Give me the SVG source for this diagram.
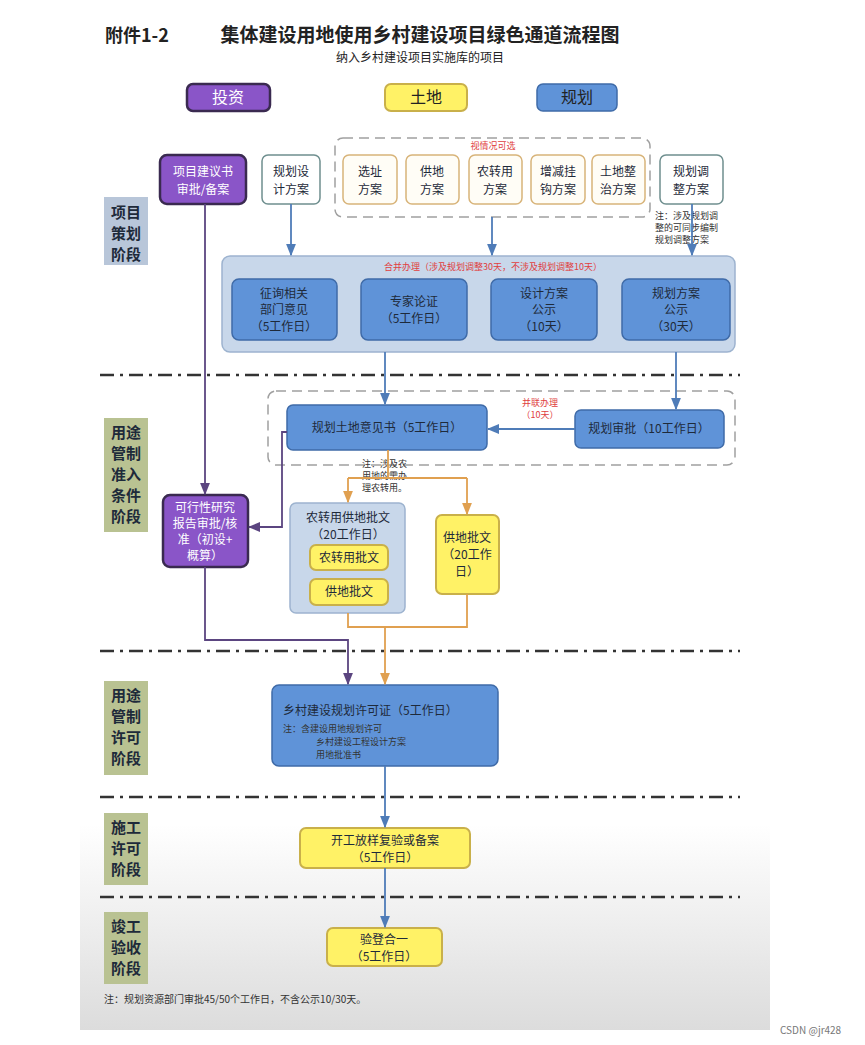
<svg xmlns="http://www.w3.org/2000/svg" width="865" height="1045" viewBox="0 0 865 1045">
<defs>
<linearGradient id="bg" x1="0" y1="0" x2="0" y2="1">
<stop offset="0" stop-color="#ffffff"/><stop offset="0.8" stop-color="#ffffff"/><stop offset="1" stop-color="#dcdcdc"/>
</linearGradient>
<marker id="ab" viewBox="0 0 10 10" refX="9" refY="5" markerWidth="7" markerHeight="7" orient="auto"><path d="M0,1 L10,5 L0,9 z" fill="#4f7cb8"/></marker>
<marker id="ap" viewBox="0 0 10 10" refX="9" refY="5" markerWidth="7" markerHeight="7" orient="auto"><path d="M0,1 L10,5 L0,9 z" fill="#5b4580"/></marker>
<marker id="ao" viewBox="0 0 10 10" refX="9" refY="5" markerWidth="7" markerHeight="7" orient="auto"><path d="M0,1 L10,5 L0,9 z" fill="#e0a050"/></marker>
<style>
text{font-family:"Noto Sans CJK SC","Liberation Sans",sans-serif;}
.c{text-anchor:middle}
.purple{fill:#8a55c8;stroke:#3a2a50;stroke-width:2.5}
.yel{fill:#fff266;stroke:#c9b04a;stroke-width:2}
.blue{fill:#5f93d8;stroke:#3f6ba8;stroke-width:1.5}
.cream{fill:#fffdf6;stroke:#d8b47a;stroke-width:1.5}
.white{fill:#fff;stroke:#6f8f8f;stroke-width:1.5}
.cont{fill:#c8d7ea;stroke:#9db3cf;stroke-width:1.5}
.dash{fill:none;stroke:#a0a0a0;stroke-width:1.5;stroke-dasharray:10 6}
.sep{stroke:#333;stroke-width:2.5;stroke-dasharray:14 6 3 6}
.stg1{fill:#b8c6d9}
.stg2{fill:#b9c292}
.t{font-size:12px;fill:#1e2a3a}
.tw{font-size:12px;fill:#ffffff}
.red{font-size:9px;fill:#e04040}
.note{font-size:9px;fill:#333}
.stg{font-size:15px;fill:#1e2a3a;font-weight:bold}
.lb{stroke:#4f7cb8;stroke-width:1.8;fill:none}
.lp{stroke:#5b4580;stroke-width:1.8;fill:none}
.lo{stroke:#e0a050;stroke-width:1.8;fill:none}
</style>
</defs>
<rect x="80" y="0" width="690" height="1030" fill="url(#bg)"/>
<text x="105" y="42" font-size="18" font-weight="bold" fill="#222">附件1-2</text>
<text x="420" y="42" class="c" font-size="19" font-weight="bold" fill="#222">集体建设用地使用乡村建设项目绿色通道流程图</text>
<text x="420" y="62" class="c" font-size="12" fill="#222">纳入乡村建设项目实施库的项目</text>

<g id="hdr-invest"><rect x="187" y="84" width="83" height="27" rx="6" class="purple"/><text x="228" y="103" class="c" font-size="16" fill="#fff">投资</text></g>
<g id="hdr-land"><rect x="385" y="84" width="82" height="27" rx="6" class="yel"/><text x="426" y="103" class="c" font-size="16" fill="#222">土地</text></g>
<g id="hdr-plan"><rect x="537" y="84" width="80" height="27" rx="6" class="blue"/><text x="577" y="103" class="c" font-size="16" fill="#222">规划</text></g>

<g id="stages">
<rect x="104" y="197" width="44" height="68" class="stg1"/>
<text x="126" y="218" class="c stg">项目</text><text x="126" y="239" class="c stg">策划</text><text x="126" y="260" class="c stg">阶段</text>
<rect x="104" y="418" width="44" height="114" class="stg2"/>
<text x="126" y="438" class="c stg">用途</text><text x="126" y="459" class="c stg">管制</text><text x="126" y="480" class="c stg">准入</text><text x="126" y="501" class="c stg">条件</text><text x="126" y="522" class="c stg">阶段</text>
<rect x="104" y="681" width="44" height="94" class="stg2"/>
<text x="126" y="701" class="c stg">用途</text><text x="126" y="722" class="c stg">管制</text><text x="126" y="743" class="c stg">许可</text><text x="126" y="764" class="c stg">阶段</text>
<rect x="104" y="813" width="44" height="72" class="stg2"/>
<text x="126" y="833" class="c stg">施工</text><text x="126" y="854" class="c stg">许可</text><text x="126" y="875" class="c stg">阶段</text>
<rect x="104" y="912" width="44" height="72" class="stg2"/>
<text x="126" y="932" class="c stg">竣工</text><text x="126" y="953" class="c stg">验收</text><text x="126" y="974" class="c stg">阶段</text>
</g>
<g id="separators">
<line x1="100" y1="375" x2="740" y2="375" class="sep"/>
<line x1="100" y1="651" x2="740" y2="651" class="sep"/>
<line x1="100" y1="797" x2="740" y2="797" class="sep"/>
<line x1="100" y1="897" x2="740" y2="897" class="sep"/>
</g>

<g id="n-proposal"><rect x="160" y="155" width="86" height="49" rx="7" class="purple"/><text x="203" y="176" class="c tw">项目建议书</text><text x="203" y="194" class="c tw">审批/备案</text></g>
<g id="n-design"><rect x="262" y="155" width="58" height="49" rx="6" class="white"/><text x="291" y="176" class="c t">规划设</text><text x="291" y="194" class="c t">计方案</text></g>
<g id="grp-optional"><rect x="335" y="138" width="315" height="79" rx="8" class="dash"/><text x="493" y="149" class="c red">视情况可选</text></g>
<g id="n-site"><rect x="343" y="155" width="54" height="49" rx="6" class="cream"/><text x="370" y="176" class="c t">选址</text><text x="370" y="194" class="c t">方案</text></g>
<g id="n-supply"><rect x="406" y="155" width="53" height="49" rx="6" class="cream"/><text x="432" y="176" class="c t">供地</text><text x="432" y="194" class="c t">方案</text></g>
<g id="n-convert"><rect x="469" y="155" width="53" height="49" rx="6" class="cream"/><text x="495" y="176" class="c t">农转用</text><text x="495" y="194" class="c t">方案</text></g>
<g id="n-link"><rect x="531" y="155" width="54" height="49" rx="6" class="cream"/><text x="558" y="176" class="c t">增减挂</text><text x="558" y="194" class="c t">钩方案</text></g>
<g id="n-consol"><rect x="592" y="155" width="53" height="49" rx="6" class="cream"/><text x="618" y="176" class="c t">土地整</text><text x="618" y="194" class="c t">治方案</text></g>
<g id="n-adjust"><rect x="660" y="155" width="63" height="49" rx="6" class="white"/><text x="691" y="176" class="c t">规划调</text><text x="691" y="194" class="c t">整方案</text></g>
<g id="note-adjust" class="note"><text x="655" y="219">注：涉及规划调</text><text x="655" y="231">整的可同步编制</text><text x="655" y="243">规划调整方案</text></g>

<g id="grp-merge"><rect x="222" y="256" width="513" height="96" rx="8" class="cont"/><text x="493" y="270" class="c red">合并办理（涉及规划调整30天，不涉及规划调整10天）</text></g>
<g id="n-consult"><rect x="232" y="279" width="105" height="61" rx="7" class="blue"/><text x="284" y="298" class="c t">征询相关</text><text x="284" y="314" class="c t">部门意见</text><text x="284" y="331" class="c t">（5工作日）</text></g>
<g id="n-expert"><rect x="361" y="279" width="106" height="61" rx="7" class="blue"/><text x="414" y="306" class="c t">专家论证</text><text x="414" y="323" class="c t">（5工作日）</text></g>
<g id="n-dpub"><rect x="491" y="279" width="106" height="61" rx="7" class="blue"/><text x="544" y="298" class="c t">设计方案</text><text x="544" y="314" class="c t">公示</text><text x="544" y="331" class="c t">（10天）</text></g>
<g id="n-ppub"><rect x="622" y="279" width="108" height="61" rx="7" class="blue"/><text x="676" y="298" class="c t">规划方案</text><text x="676" y="314" class="c t">公示</text><text x="676" y="331" class="c t">（30天）</text></g>

<g id="grp-parallel"><rect x="268" y="391" width="467" height="74" rx="8" class="dash"/><text x="540" y="406" class="c red">并联办理</text><text x="540" y="418" class="c red">（10天）</text></g>
<g id="n-opinion"><rect x="287" y="405" width="200" height="45" rx="6" class="blue"/><text x="387" y="432" class="c t">规划土地意见书（5工作日）</text></g>
<g id="n-approve"><rect x="575" y="410" width="149" height="38" rx="6" class="blue"/><text x="649" y="433" class="c t">规划审批（10工作日）</text></g>
<g id="note-farm" class="note"><text x="362" y="467">注：涉及农</text><text x="362" y="479">用地的需办</text><text x="362" y="491">理农转用。</text></g>

<g id="n-feas"><rect x="163" y="495" width="85" height="72" rx="7" class="purple"/><text x="205" y="512" class="c tw">可行性研究</text><text x="205" y="528" class="c tw">报告审批/核</text><text x="205" y="544" class="c tw">准（初设+</text><text x="205" y="560" class="c tw">概算）</text></g>
<g id="grp-farmdoc"><rect x="290" y="503" width="115" height="110" rx="6" class="cont"/><text x="348" y="522" class="c t">农转用供地批文</text><text x="348" y="539" class="c t">（20工作日）</text></g>
<g id="n-farmdoc"><rect x="310" y="545" width="78" height="25" rx="6" class="yel"/><text x="349" y="562" class="c t">农转用批文</text></g>
<g id="n-supdoc1"><rect x="310" y="579" width="78" height="26" rx="6" class="yel"/><text x="349" y="596" class="c t">供地批文</text></g>
<g id="n-supdoc2"><rect x="436" y="515" width="63" height="79" rx="6" class="yel"/><text x="467" y="542" class="c t">供地批文</text><text x="467" y="559" class="c t">（20工作</text><text x="467" y="576" class="c t">日）</text></g>

<g id="n-permit"><rect x="272" y="685" width="226" height="81" rx="7" class="blue"/><text x="283" y="715" class="t">乡村建设规划许可证（5工作日）</text><text x="283" y="732" class="note">注：含建设用地规划许可</text><text x="316" y="745" class="note">乡村建设工程设计方案</text><text x="316" y="758" class="note">用地批准书</text></g>
<g id="n-stake"><rect x="300" y="828" width="170" height="40" rx="6" class="yel"/><text x="385" y="845" class="c t">开工放样复验或备案</text><text x="385" y="862" class="c t">（5工作日）</text></g>
<g id="n-accept"><rect x="327" y="928" width="115" height="38" rx="6" class="yel"/><text x="384" y="944" class="c t">验登合一</text><text x="384" y="961" class="c t">（5工作日）</text></g>

<g id="connectors">
<line x1="291" y1="204" x2="291" y2="255" class="lb" marker-end="url(#ab)"/>
<line x1="492" y1="217" x2="492" y2="255" class="lb" marker-end="url(#ab)"/>
<line x1="692" y1="204" x2="692" y2="255" class="lb" marker-end="url(#ab)"/>
<line x1="205" y1="204" x2="205" y2="494" class="lp" marker-end="url(#ap)"/>
<line x1="385" y1="352" x2="385" y2="404" class="lb" marker-end="url(#ab)"/>
<line x1="676" y1="352" x2="676" y2="409" class="lb" marker-end="url(#ab)"/>
<line x1="575" y1="429" x2="488" y2="429" class="lb" marker-end="url(#ab)"/>
<polyline points="287,432 282,432 282,527 249,527" class="lp" marker-end="url(#ap)"/>
<polyline points="388,450 388,478" class="lo"/>
<polyline points="348,478 348,502" class="lo" marker-end="url(#ao)"/>
<line x1="348" y1="478" x2="467" y2="478" class="lo"/>
<polyline points="467,478 467,514" class="lo" marker-end="url(#ao)"/>
<polyline points="348,613 348,627 467,627 467,594" class="lo"/>
<line x1="385" y1="627" x2="385" y2="684" class="lo" marker-end="url(#ao)"/>
<polyline points="205,567 205,640 348,640 348,684" class="lp" marker-end="url(#ap)"/>
<line x1="385" y1="766" x2="385" y2="827" class="lb" marker-end="url(#ab)"/>
<line x1="385" y1="868" x2="385" y2="927" class="lb" marker-end="url(#ab)"/>
</g>
<text x="104" y="1003" font-size="10" fill="#333">注：规划资源部门审批45/50个工作日，不含公示10/30天。</text>
<text x="780" y="1034" font-size="10" fill="#777">CSDN @jr428</text>
</svg>
